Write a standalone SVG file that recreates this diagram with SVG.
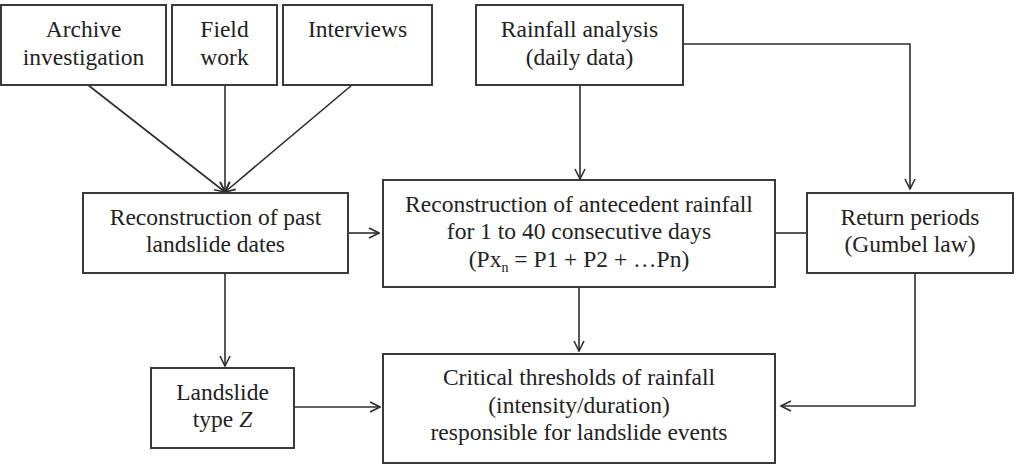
<svg xmlns="http://www.w3.org/2000/svg" width="1027" height="466" viewBox="0 0 1027 466">
<style>
.box{fill:#fff;stroke:#3a3a3a;stroke-width:2}
.t{font-family:"Liberation Serif","Times New Roman",serif;font-size:23.5px;fill:#222;text-anchor:middle}
.c{fill:none;stroke:#2e2e2e;stroke-width:1.6}
</style>
<defs>
<marker id="a" viewBox="0 0 12 12" refX="11" refY="6" markerWidth="12" markerHeight="12" markerUnits="userSpaceOnUse" orient="auto">
<path d="M1,1 L11,6 L1,11" fill="none" stroke="#2e2e2e" stroke-width="1.6"/>
</marker>
</defs>
<rect width="1027" height="466" fill="#fff"/>
<g id="connectors">
<line class="c" x1="88" y1="85" x2="225" y2="192" marker-end="url(#a)"/>
<line class="c" x1="225" y1="85" x2="225" y2="192" marker-end="url(#a)"/>
<line class="c" x1="352" y1="85" x2="225" y2="192" marker-end="url(#a)"/>
<line class="c" x1="580" y1="85" x2="580" y2="179" marker-end="url(#a)"/>
<polyline class="c" points="678,44 910,44 910,189" marker-end="url(#a)"/>
<line class="c" x1="348" y1="233" x2="379" y2="233" marker-end="url(#a)"/>
<line class="c" x1="225" y1="273" x2="225" y2="366" marker-end="url(#a)"/>
<line class="c" x1="579" y1="287" x2="579" y2="351" marker-end="url(#a)"/>
<line class="c" x1="775" y1="233" x2="807" y2="233"/>
<polyline class="c" points="915,273 915,406 781,406" marker-end="url(#a)"/>
<line class="c" x1="293" y1="407" x2="380" y2="407" marker-end="url(#a)"/>
</g>
<g id="archive"><rect class="box" x="1" y="5" width="165" height="80"/><text class="t" x="83.5" y="37">Archive</text><text class="t" x="83.5" y="65">investigation</text></g>
<g id="field"><rect class="box" x="172" y="5" width="105" height="80"/><text class="t" x="224.5" y="37">Field</text><text class="t" x="224.5" y="65">work</text></g>
<g id="interviews"><rect class="box" x="283" y="5" width="149" height="80"/><text class="t" x="357.5" y="37">Interviews</text></g>
<g id="rainfall"><rect class="box" x="476" y="5" width="207" height="80"/><text class="t" x="579.5" y="37">Rainfall analysis</text><text class="t" x="579.5" y="65">(daily data)</text></g>
<g id="past"><rect class="box" x="83" y="193" width="265" height="80"/><text class="t" x="215.5" y="225">Reconstruction of past</text><text class="t" x="215.5" y="252">landslide dates</text></g>
<g id="antecedent"><rect class="box" x="383" y="180" width="392" height="107"/><text class="t" x="579" y="212">Reconstruction of antecedent rainfall</text><text class="t" x="579" y="239">for 1 to 40 consecutive days</text><text class="t" x="579" y="267">(Px<tspan font-size="14" dy="5">n</tspan><tspan dy="-5"> = P1 + P2 + …Pn)</tspan></text></g>
<g id="return"><rect class="box" x="807" y="193" width="206" height="80"/><text class="t" x="910" y="225">Return periods</text><text class="t" x="910" y="252">(Gumbel law)</text></g>
<g id="landslide"><rect class="box" x="151" y="368" width="143" height="80"/><text class="t" x="222.5" y="400">Landslide</text><text class="t" x="222.5" y="427">type <tspan font-style="italic">Z</tspan></text></g>
<g id="critical"><rect class="box" x="383" y="354" width="392" height="109"/><text class="t" x="579" y="385">Critical thresholds of rainfall</text><text class="t" x="579" y="413">(intensity/duration)</text><text class="t" x="579" y="440">responsible for landslide events</text></g>
</svg>
